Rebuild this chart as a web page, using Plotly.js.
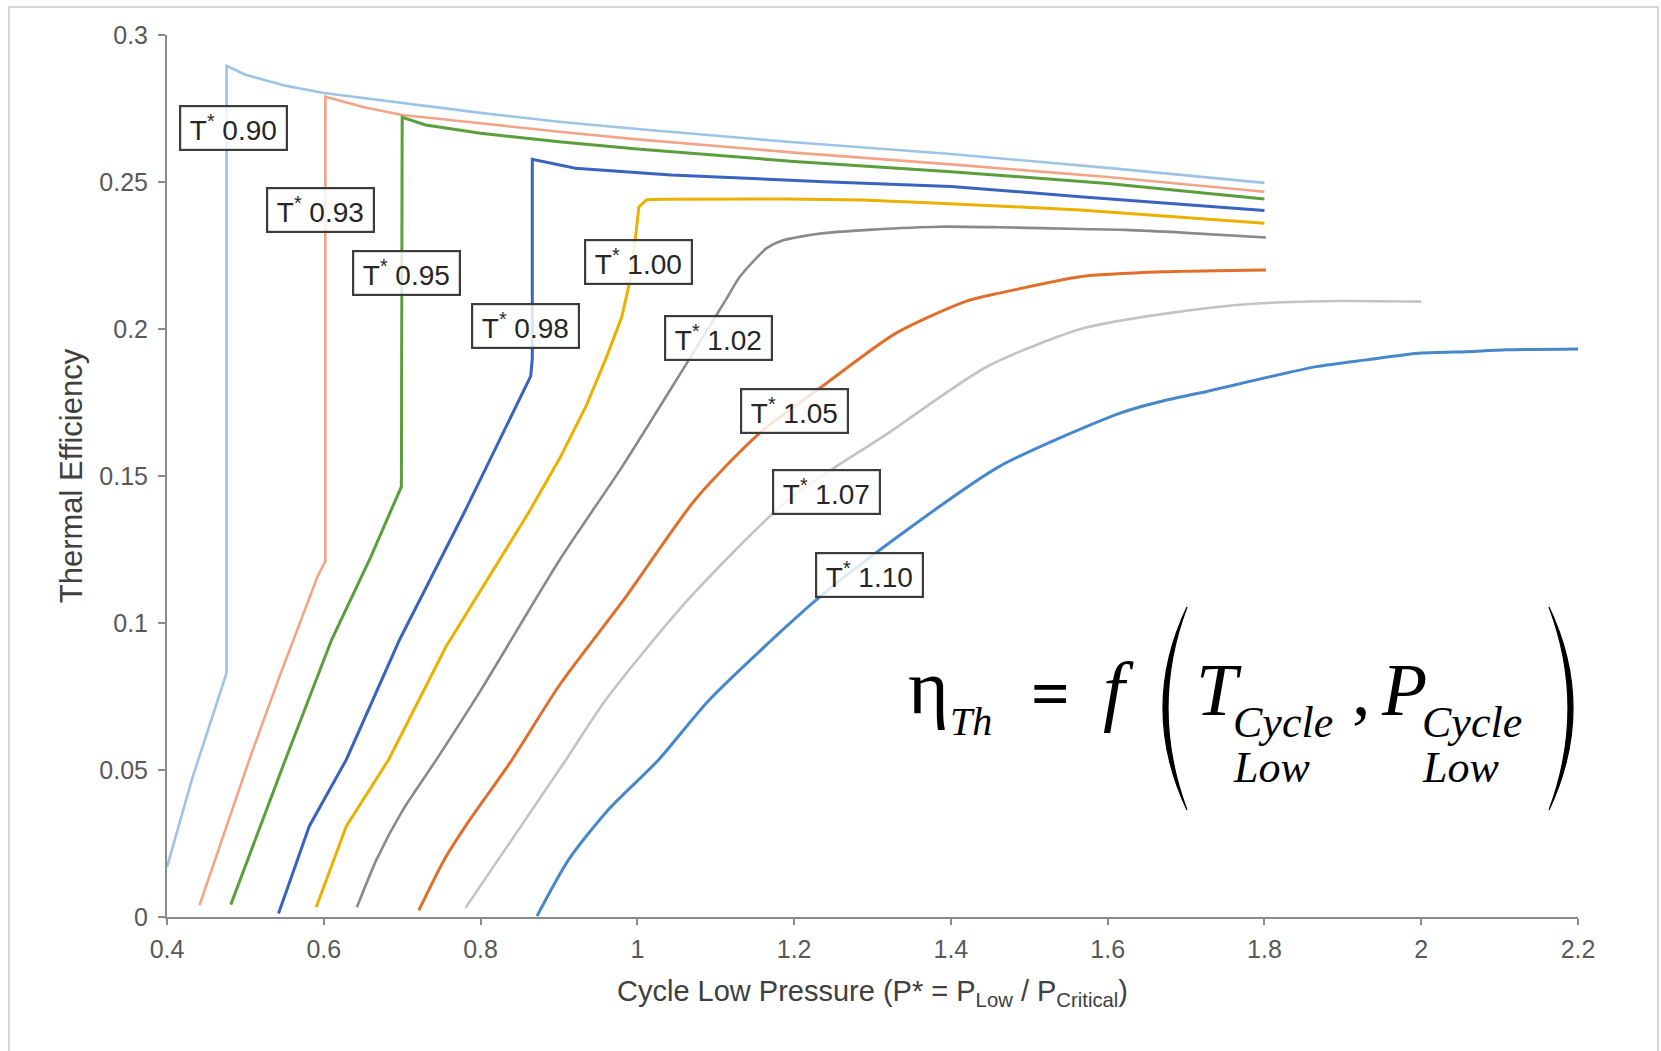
<!DOCTYPE html>
<html>
<head>
<meta charset="utf-8">
<script src="https://cdn.plot.ly/plotly-3.0.1.min.js"></script>
<style>
  html, body { margin: 0; padding: 0; background: #ffffff; }
  #chart { width: 1661px; height: 1051px; }
</style>
</head>
<body>
<div id="chart"></div>
<script>
// Reduced temperatures T* = T_low / T_critical, one curve each
const tStar = ['0.90', '0.93', '0.95', '0.98', '1.00', '1.02', '1.05', '1.07', '1.10'];

// Cycle low pressure P* (x) and thermal efficiency (y) for every isotherm
const pT090 = [0.400, 0.432, 0.476, 0.476, 0.500, 0.550, 0.600, 0.700, 0.800, 0.900, 1.000, 1.200, 1.400, 1.600, 1.800];
const eT090 = [0.017, 0.047, 0.083, 0.2895, 0.2865, 0.2828, 0.2803, 0.2768, 0.2735, 0.2705, 0.2680, 0.2635, 0.2595, 0.2548, 0.2497];

const pT093 = [0.4415, 0.505, 0.542, 0.592, 0.602, 0.602, 0.650, 0.700, 0.800, 0.900, 1.000, 1.200, 1.400, 1.600, 1.800];
const eT093 = [0.004, 0.0535, 0.0807, 0.1158, 0.121, 0.279, 0.2755, 0.2728, 0.2700, 0.2671, 0.2645, 0.2600, 0.2560, 0.2517, 0.2467];

const pT095 = [0.4814, 0.520, 0.551, 0.610, 0.660, 0.699, 0.700, 0.730, 0.800, 0.900, 1.000, 1.200, 1.400, 1.600, 1.800];
const eT095 = [0.0042, 0.0316, 0.0535, 0.0943, 0.1225, 0.1464, 0.272, 0.2694, 0.2666, 0.2637, 0.2612, 0.2570, 0.2535, 0.2495, 0.2442];

const pT098 = [0.5423, 0.5815, 0.6287, 0.6967, 0.780, 0.850, 0.864, 0.866, 0.866, 0.921, 1.043, 1.238, 1.400, 1.565, 1.800];
const eT098 = [0.0012, 0.0309, 0.0535, 0.0943, 0.138, 0.176, 0.184, 0.190, 0.2577, 0.2547, 0.2524, 0.2501, 0.2485, 0.2450, 0.2403];

const pT100 = [0.5903, 0.6288, 0.6827, 0.756, 0.861, 0.901, 0.935, 0.960, 0.980, 0.992, 0.998, 1.002, 1.012, 1.033, 1.189, 1.287, 1.385, 1.565, 1.800];
const eT100 = [0.0033, 0.0309, 0.0535, 0.092, 0.1374, 0.156, 0.174, 0.190, 0.204, 0.218, 0.232, 0.2415, 0.2440, 0.2441, 0.2442, 0.2439, 0.2428, 0.2405, 0.2360];

const pT102 = [0.6422, 0.6673, 0.700, 0.7436, 0.800, 0.901, 0.9807, 1.0604, 1.113, 1.130, 1.150, 1.165, 1.184, 1.210, 1.238, 1.300, 1.385, 1.462, 1.565, 1.624, 1.700, 1.802];
const eT102 = [0.0033, 0.0195, 0.036, 0.0535, 0.077, 0.1215, 0.1532, 0.1872, 0.210, 0.2175, 0.2236, 0.2275, 0.2300, 0.2315, 0.2326, 0.2338, 0.2348, 0.2346, 0.2340, 0.2337, 0.2327, 0.2311];

const pT105 = [0.7213, 0.7537, 0.7808, 0.8402, 0.901, 0.983, 1.074, 1.156, 1.236, 1.330, 1.420, 1.462, 1.565, 1.678, 1.802];
const eT105 = [0.0023, 0.0195, 0.0309, 0.0535, 0.079, 0.108, 0.142, 0.1646, 0.1805, 0.1986, 0.2095, 0.2122, 0.2178, 0.2195, 0.2201];

const pT107 = [0.7808, 0.909, 0.960, 1.065, 1.193, 1.320, 1.448, 1.570, 1.678, 1.786, 1.893, 2.000];
const eT107 = [0.0031, 0.0535, 0.074, 0.108, 0.142, 0.1646, 0.1875, 0.2003, 0.2054, 0.2086, 0.2095, 0.2093];

const pT110 = [0.872, 0.9124, 0.963, 1.0272, 1.0923, 1.229, 1.3386, 1.4616, 1.616, 1.678, 1.717, 1.866, 1.930, 2.000, 2.058, 2.108, 2.200];
const eT110 = [0.0003, 0.0195, 0.0365, 0.0535, 0.074, 0.108, 0.1306, 0.1532, 0.1714, 0.176, 0.1782, 0.1872, 0.1895, 0.1918, 0.1923, 0.1929, 0.1932];

// Axis ticks
const xTicks = [0.4, 0.6, 0.8, 1.0, 1.2, 1.4, 1.6, 1.8, 2.0, 2.2];
const yTicks = [0, 0.05, 0.1, 0.15, 0.2, 0.25, 0.3];

const pressures = [pT090, pT093, pT095, pT098, pT100, pT102, pT105, pT107, pT110];
const efficiencies = [eT090, eT093, eT095, eT098, eT100, eT102, eT105, eT107, eT110];

const lineColors = ['#9dc3e6', '#f4a486', '#5b9e3c', '#3a63bf', '#ebb000',
                    '#8a8a8a', '#e06f2c', '#c3c3c3', '#4688c9'];
const lineWidths = [2.6, 2.6, 3, 3, 3, 2.6, 3, 2.6, 3];
// Isotherms with a saturation kink keep straight segments; the rest are smooth
const lineShapes = ['linear', 'linear', 'linear', 'linear', 'linear',
                    'spline', 'spline', 'spline', 'spline'];

// Where each isotherm's tag box sits (data coordinates)
const tagX = [0.4844, 0.5959, 0.7054, 0.8569, 1.001, 1.1033, 1.2002, 1.2411, 1.2959];
const tagY = [0.2683, 0.2405, 0.2191, 0.2011, 0.2229, 0.1971, 0.1722, 0.1444, 0.1162];

const traces = tStar.map((t, i) => ({
  type: 'scatter',
  mode: 'lines',
  name: 'T* ' + t,
  x: pressures[i],
  y: efficiencies[i],
  line: { color: lineColors[i], width: lineWidths[i], shape: lineShapes[i], smoothing: 0.7 },
  hoverinfo: 'x+y+name'
}));

// Plot-area geometry, used to place the formula in paper units
const W = 1661, H = 1051;
const M = { l: 167, r: 83, t: 35, b: 134 };
const PW = W - M.l - M.r, PH = H - M.t - M.b;
const fx = px => (px - M.l) / PW;
const fy = py => 1 - (py - M.t) / PH;
const pt = (px, py) => fx(px).toFixed(5) + ',' + fy(py).toFixed(5);

const THIN = '\u2009';
const tagAnnotations = tStar.map((t, i) => ({
  x: tagX[i], y: tagY[i], xref: 'x', yref: 'y',
  text: THIN + 'T<sup>*</sup> ' + t + THIN,
  showarrow: false,
  font: { family: 'Liberation Sans, Arial, sans-serif', size: 28, color: '#262626' },
  bgcolor: 'rgba(255,255,255,0.82)',
  bordercolor: '#3c3c3c',
  borderwidth: 2.2,
  borderpad: 3,
  xanchor: 'center', yanchor: 'middle'
}));

// Formula eta_Th = f(T_cycle,low , P_cycle,low) in a serif face
const serif = 'Liberation Serif, Times New Roman, serif';
const ASC = 0.3375; // half of (ascent - descent) for the serif face, in em
const glyph = (text, left, baseline, size, italic) => ({
  xref: 'paper', yref: 'paper',
  x: fx(left), y: fy(baseline - ASC * size),
  xanchor: 'left', yanchor: 'middle',
  text: italic ? '<i>' + text + '</i>' : text,
  showarrow: false, borderpad: 0, borderwidth: 0,
  font: { family: serif, size: size, color: '#000000' }
});

const formula = [
  glyph('\u03b7', 908, 713, 78, false),
  glyph('Th', 950, 735, 40, true),
  glyph('<b>=</b>', 1031, 716, 68, false),
  glyph('f', 1103, 716, 78, true),
  glyph('T', 1196, 715, 74, true),
  glyph('Cycle', 1233, 737, 44, true),
  glyph('Low', 1233, 782, 44, true),
  glyph(',', 1352, 715, 74, false),
  glyph('P', 1381, 715, 74, true),
  glyph('Cycle', 1422, 737, 44, true),
  glyph('Low', 1422, 782, 44, true)
];

const leftParen = 'M ' + pt(1187, 607) + ' Q ' + pt(1139, 708) + ' ' + pt(1187, 810) +
                  ' Q ' + pt(1149, 708) + ' ' + pt(1187, 607) + ' Z';
const rightParen = 'M ' + pt(1549, 607) + ' Q ' + pt(1597, 708) + ' ' + pt(1549, 810) +
                   ' Q ' + pt(1587, 708) + ' ' + pt(1549, 607) + ' Z';

const layout = {
  width: W, height: H,
  margin: M,
  paper_bgcolor: '#ffffff',
  plot_bgcolor: '#ffffff',
  showlegend: false,
  font: { family: 'Liberation Sans, Arial, sans-serif', color: '#404040' },
  xaxis: {
    range: [0.4, 2.2],
    tickvals: xTicks,
    ticktext: xTicks.map(v => String(Math.round(v * 10) / 10)),
    showgrid: false, zeroline: false,
    showline: true, linecolor: '#8a8a8a', linewidth: 2,
    ticks: 'outside', ticklen: 6, tickwidth: 2, tickcolor: '#8a8a8a',
    ticklabelstandoff: 3,
    tickfont: { size: 25, color: '#595959' },
    title: {
      text: 'Cycle Low Pressure (P* = P<sub>Low</sub> / P<sub>Critical</sub>)',
      font: { size: 29, color: '#404040' },
      standoff: 19
    }
  },
  yaxis: {
    range: [0, 0.3],
    tickvals: yTicks,
    ticktext: yTicks.map(v => String(Math.round(v * 100) / 100)),
    showgrid: false, zeroline: false,
    showline: true, linecolor: '#8a8a8a', linewidth: 2,
    ticks: 'outside', ticklen: 7, tickwidth: 2, tickcolor: '#8a8a8a',
    ticklabelstandoff: 5,
    tickfont: { size: 25, color: '#595959' },
    title: {
      text: 'Thermal Efficiency',
      font: { size: 31, color: '#404040' },
      standoff: 7
    }
  },
  annotations: tagAnnotations.concat(formula),
  shapes: [
    { type: 'rect', xref: 'paper', yref: 'paper', layer: 'below',
      x0: fx(9), x1: fx(1658), y0: fy(1070), y1: fy(7),
      line: { color: '#d6d6d6', width: 2 }, fillcolor: 'rgba(0,0,0,0)' },
    { type: 'path', xref: 'paper', yref: 'paper', path: leftParen,
      fillcolor: '#000000', line: { color: '#000000', width: 1.2 } },
    { type: 'path', xref: 'paper', yref: 'paper', path: rightParen,
      fillcolor: '#000000', line: { color: '#000000', width: 1.2 } }
  ]
};

Plotly.newPlot('chart', traces, layout, { displayModeBar: false, staticPlot: true });
</script>
</body>
</html>
